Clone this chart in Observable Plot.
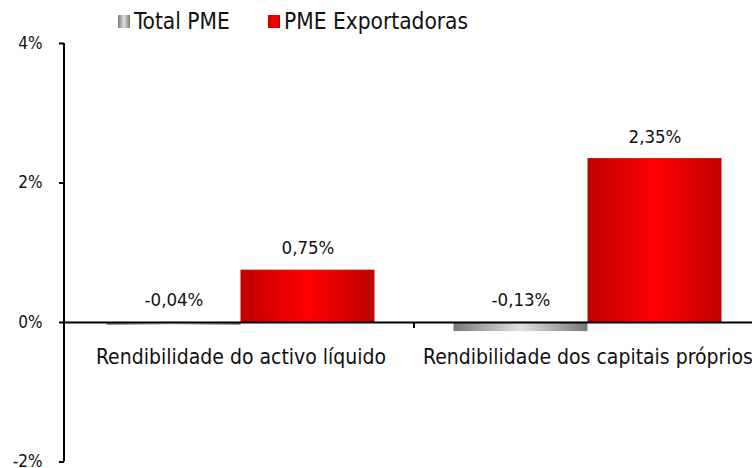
<!DOCTYPE html>
<html><head><meta charset="utf-8">
<script src="https://cdn.jsdelivr.net/npm/d3@7"></script>
<script src="https://cdn.jsdelivr.net/npm/@observablehq/plot@0.6"></script>
<style>
html,body{margin:0;padding:0;background:#fff;overflow:hidden;width:752px;height:468px}
#legend{height:30px;position:relative;z-index:1;font-family:"DejaVu Sans Condensed",sans-serif;font-size:22.5px;color:#111}
#legend .sw{position:absolute;top:15px;width:12px;height:13px}
#legend .lb{position:absolute;top:8px;line-height:26px;white-space:nowrap}
#chart svg{display:block;overflow:visible}
</style></head><body>
<div id="legend"></div>
<div id="chart"></div>
<script>
const categories = ["Rendibilidade do activo líquido", "Rendibilidade dos capitais próprios"];
const seriesNames = ["Total PME", "PME Exportadoras"];
const totalPME = [-0.04, -0.13];
const pmeExportadoras = [0.75, 2.35];
const yTicks = [-2, 0, 2, 4];

const data = categories.flatMap((c, i) => [
  {category: c, series: seriesNames[0], value: totalPME[i]},
  {category: c, series: seriesNames[1], value: pmeExportadoras[i]}
]);
const locale = d3.formatLocale({decimal: ",", thousands: ".", grouping: [3], currency: ["", "€"], minus: "-"});
const fmt = v => locale.format(".2f")(v) + "%";

// legend
const legend = d3.select("#legend");
const legendItems = [
  {name: seriesNames[0], bg: "linear-gradient(to right,#7a7a7a,#e0e0e0,#7a7a7a)", sx: 118, tx: 134},
  {name: seriesNames[1], bg: "linear-gradient(to right,#c00000,#ff0000,#c00000)", sx: 268, tx: 284}
];
legendItems.forEach(it => {
  legend.append("div").attr("class", "sw").style("left", it.sx + "px").style("background", it.bg);
  legend.append("div").attr("class", "lb").style("left", it.tx + "px").text(it.name);
});

const outer = 39.5, barW = 134, step = (760.5 - 66.5) / 2;
const byS = s => data.filter(d => d.series === s);

const plot = Plot.plot({
  width: 752,
  height: 438,
  marginLeft: 64,
  marginRight: 0,
  marginTop: 13,
  marginBottom: 6.5,
  style: {fontFamily: "DejaVu Sans Condensed, sans-serif", fontSize: "17px", color: "#111", background: "transparent"},
  x: {type: "band", domain: categories, range: [66.5, 760.5], padding: 0, axis: null},
  y: {domain: [d3.min(yTicks), d3.max(yTicks)], label: null},
  marks: [
    () => {
      const defs = d3.create("svg:defs");
      const mk = (id, edge, mid) => {
        const g = defs.append("linearGradient").attr("id", id).attr("x1", 0).attr("x2", 1).attr("y1", 0).attr("y2", 0);
        g.append("stop").attr("offset", "0%").attr("stop-color", edge);
        g.append("stop").attr("offset", "50%").attr("stop-color", mid);
        g.append("stop").attr("offset", "100%").attr("stop-color", edge);
      };
      mk("gGray", "#787878", "#e2e2e2");
      mk("gRed", "#bf0000", "#ff0000");
      return defs.node();
    },
    Plot.barY(byS(seriesNames[0]), {x: "category", y: "value", fill: "url(#gGray)", insetLeft: outer, insetRight: step - outer - barW}),
    Plot.barY(byS(seriesNames[1]), {x: "category", y: "value", fill: "url(#gRed)", insetLeft: outer + barW, insetRight: step - outer - 2 * barW}),
    Plot.ruleY([0], {stroke: "#000", strokeWidth: 2}),
    (index, {x, y}, values, dims) => {
      const g = d3.create("svg:g").attr("stroke", "#000").attr("stroke-width", 2);
      g.append("line").attr("x1", dims.marginLeft).attr("x2", dims.marginLeft)
        .attr("y1", y(d3.min(yTicks))).attr("y2", y(d3.max(yTicks)));
      categories.slice(1).forEach(c => {
        g.append("line").attr("x1", x(c)).attr("x2", x(c)).attr("y1", y(0)).attr("y2", y(0) + 6);
      });
      return g.node();
    },
    Plot.axisY(yTicks, {tickSize: 5, tickPadding: 17, strokeWidth: 2, stroke: "#000", tickFormat: d => d + "%", fontSize: 17, label: null}),
    Plot.text(categories, {x: d => d, y: () => 0, dy: 35, fontSize: 21, fill: "#111"}),
    Plot.text(byS(seriesNames[0]), {x: "category", y: d => Math.max(0, d.value), text: d => fmt(d.value), dx: -barW / 2, dy: -22, fontSize: 18.5, fill: "#111"}),
    Plot.text(byS(seriesNames[1]), {x: "category", y: d => Math.max(0, d.value), text: d => fmt(d.value), dx: barW / 2, dy: -22, fontSize: 18.5, fill: "#111"})
  ]
});
document.getElementById("chart").appendChild(plot);
</script>
</body></html>
